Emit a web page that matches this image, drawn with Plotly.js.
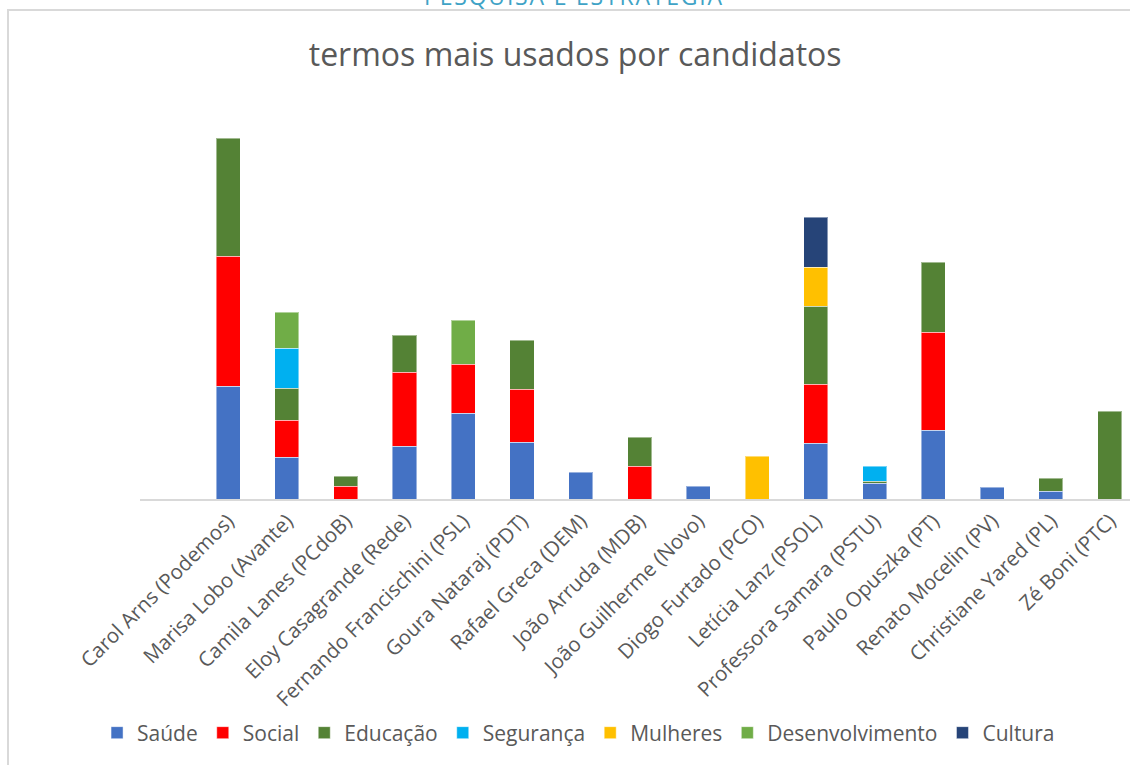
<!DOCTYPE html>
<html>
<head>
<meta charset="utf-8">
<script src="https://cdn.plot.ly/plotly-3.0.1.min.js"></script>
<style>
html,body{margin:0;padding:0;background:#fff;overflow:hidden;}
#chart{width:1130px;height:765px;}
</style>
</head>
<body>
<div id="chart"></div>
<script>
const candidates = [
  "Carol Arns (Podemos)", "Marisa Lobo (Avante)", "Camila Lanes (PCdoB)",
  "Eloy Casagrande (Rede)", "Fernando Francischini (PSL)", "Goura Nataraj (PDT)",
  "Rafael Greca (DEM)", "João Arruda (MDB)", "João Guilherme (Novo)",
  "Diogo Furtado (PCO)", "Letícia Lanz (PSOL)", "Professora Samara (PSTU)",
  "Paulo Opuszka (PT)", "Renato Mocelin (PV)", "Christiane Yared (PL)", "Zé Boni (PTC)"
];
const saude          = [113, 42, null, 53, 86, 57, 27, null, 13, null, 56, 16, 69, 12, 8, null];
const social         = [130, 37, 13, 74, 49, 53, null, 33, null, null, 59, null, 98, null, null, null];
const educacao       = [118, 32, 10, 37, null, 49, null, 29, null, null, 78, 2, 70, null, 13, 88];
const seguranca      = [null, 40, null, null, null, null, null, null, null, null, null, 15, null, null, null, null];
const mulheres       = [null, null, null, null, null, null, null, null, null, 43, 39, null, null, null, null, null];
const desenvolvimento= [null, 36, null, null, 44, null, null, null, null, null, null, null, null, null, null, null];
const cultura        = [null, null, null, null, null, null, null, null, null, null, 50, null, null, null, null, null];

const seriesNames  = ["Saúde", "Social", "Educação", "Segurança", "Mulheres", "Desenvolvimento", "Cultura"];
const seriesValues = [saude, social, educacao, seguranca, mulheres, desenvolvimento, cultura];
const seriesColors = ["#4472C4", "#FF0000", "#548235", "#00B0F0", "#FFC000", "#70AD47", "#264478"];

const traces = seriesNames.map((name, i) => ({
  type: "bar",
  name: name,
  x: candidates,
  y: seriesValues[i],
  marker: { color: seriesColors[i], line: { color: "rgba(255,255,255,0.45)", width: 1 } },
  hoverinfo: "x+y+name"
}));

// frame geometry helpers (paper units)
const L = 140, R = 0, T = 100, B = 266, W = 1130, H = 765;
const pw = W - L - R, ph = H - T - B;
const px2x = p => (p - L) / pw;
const px2y = p => (H - B - p) / ph;

const layout = {
  width: W, height: H,
  margin: { l: L, r: R, t: T, b: B, pad: 0 },
  paper_bgcolor: "#ffffff",
  plot_bgcolor: "#ffffff",
  barmode: "stack",
  bargap: 0.59,
  font: { family: "Open Sans, sans-serif", color: "#595959" },
  title: {
    text: "termos mais usados por candidatos",
    font: { family: "Open Sans, sans-serif", size: 32, color: "#595959" },
    xref: "container", x: 0.509, xanchor: "center",
    yref: "container", y: 1 - 55 / 765, yanchor: "middle"
  },
  xaxis: {
    type: "category",
    range: [-1.5, -1.5 + pw / 58.77],
    tickangle: -45,
    tickfont: { family: "Open Sans, sans-serif", size: 20.5, color: "#595959" },
    showline: true, linecolor: "#d9d9d9", linewidth: 2,
    showgrid: false, zeroline: false, ticks: "", fixedrange: true
  },
  yaxis: {
    range: [0, ph],
    visible: false, showgrid: false, zeroline: false, fixedrange: true
  },
  showlegend: true,
  legend: {
    orientation: "h",
    xref: "container", yref: "container",
    x: 0.512, xanchor: "center",
    y: 1 - 733 / 765, yanchor: "middle",
    font: { family: "Open Sans, sans-serif", size: 21, color: "#595959" },
    traceorder: "normal",
    itemclick: false, itemdoubleclick: false
  },
  shapes: [
    { type: "line", xref: "paper", yref: "paper", x0: px2x(8), x1: px2x(8), y0: px2y(10), y1: px2y(780),
      line: { color: "#d9d9d9", width: 2 }, layer: "below" },
    { type: "line", xref: "paper", yref: "paper", x0: px2x(7), x1: px2x(1140), y0: px2y(10), y1: px2y(10),
      line: { color: "#d9d9d9", width: 2 }, layer: "below" }
  ],
  annotations: [
    { text: "<span style=\"letter-spacing:1.8px\">PESQUISA E ESTRATEGIA</span>", xref: "paper", yref: "paper",
      x: px2x(574), y: px2y(14), xanchor: "center", yanchor: "bottom", showarrow: false,
      font: { family: "Open Sans, sans-serif", size: 23, color: "#3fa3c6" } }
  ]
};

Plotly.newPlot("chart", traces, layout, { displayModeBar: false, staticPlot: false });
</script>
</body>
</html>
